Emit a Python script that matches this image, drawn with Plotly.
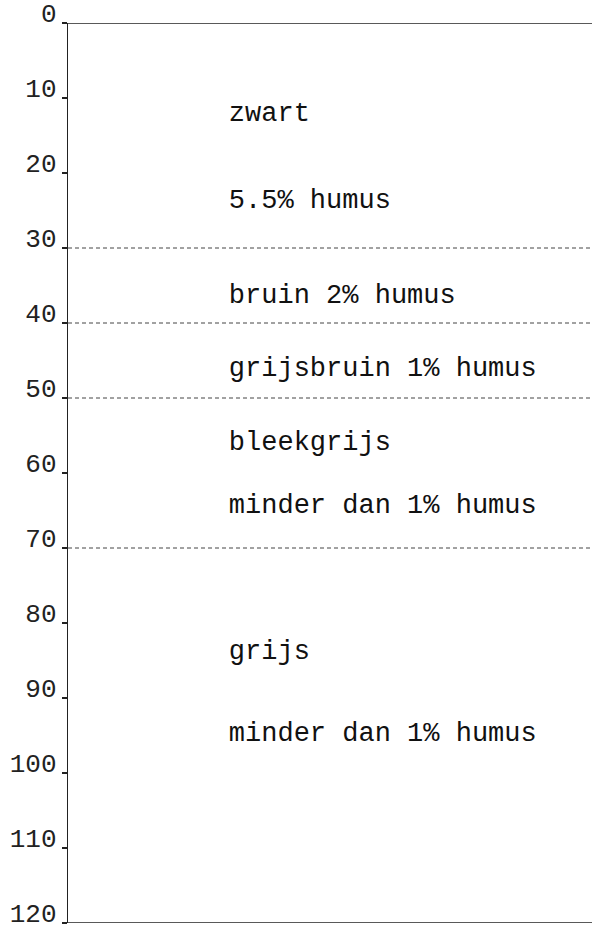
import plotly.graph_objects as go

# Depth axis ticks (cm)
tick_values = [0, 10, 20, 30, 40, 50, 60, 70, 80, 90, 100, 110, 120]
tick_labels = ["0", "10", "20", "30", "40", "50", "60", "70", "80", "90", "100", "110", "120"]

# Horizon boundaries (dashed) and profile limits (solid)
boundaries = [30, 40, 50, 70]
profile_top = 0
profile_bottom = 120

# Horizon descriptions and their depths
label_texts = [
    "zwart",
    "5.5% humus",
    "bruin 2% humus",
    "grijsbruin 1% humus",
    "bleekgrijs",
    "minder dan 1% humus",
    "grijs",
    "minder dan 1% humus",
]
label_depths = [12.2, 23.8, 36.4, 46.1, 56.0, 64.4, 83.9, 94.8]
label_x = 30.7

FONT = "Courier New, Liberation Mono, monospace"

fig = go.Figure()

for b in boundaries:
    fig.add_trace(go.Scatter(
        x=[0, 100], y=[b, b], mode="lines",
        line=dict(color="#444444", width=1, dash="4px,3px"),
        hoverinfo="skip", showlegend=False, cliponaxis=False,
    ))

for b in [profile_top, profile_bottom]:
    fig.add_trace(go.Scatter(
        x=[0, 100], y=[b, b], mode="lines",
        line=dict(color="#222222", width=1.3),
        hoverinfo="skip", showlegend=False, cliponaxis=False,
    ))

fig.add_trace(go.Scatter(
    x=[label_x] * len(label_texts), y=label_depths, mode="text",
    text=label_texts, textposition="middle right",
    textfont=dict(family=FONT, size=27, color="#111111"),
    hoverinfo="skip", showlegend=False,
))

fig.update_layout(
    width=594, height=933,
    margin=dict(l=68, r=2, t=23, b=10, autoexpand=False),
    paper_bgcolor="white", plot_bgcolor="white",
    showlegend=False,
    xaxis=dict(range=[0, 100], visible=False, fixedrange=True, automargin=False),
    yaxis=dict(
        range=[profile_bottom + 0.001, profile_top],
        tickmode="array", tickvals=tick_values, ticktext=tick_labels,
        ticks="outside", ticklen=5, tickwidth=1.2, tickcolor="#222222",
        showline=True, linecolor="#222222", linewidth=1.3,
        showgrid=False, zeroline=False,
        tickfont=dict(family=FONT, size=26, color="#222222"),
        ticklabelshift=10,
        ticklabeloverflow="allow",
        automargin=False,
        fixedrange=True,
    ),
)

fig.write_html(
    "out.html",
    config={"displayModeBar": False, "staticPlot": True},
    post_script="document.body.style.margin='0';document.body.style.overflow='hidden';",
)
